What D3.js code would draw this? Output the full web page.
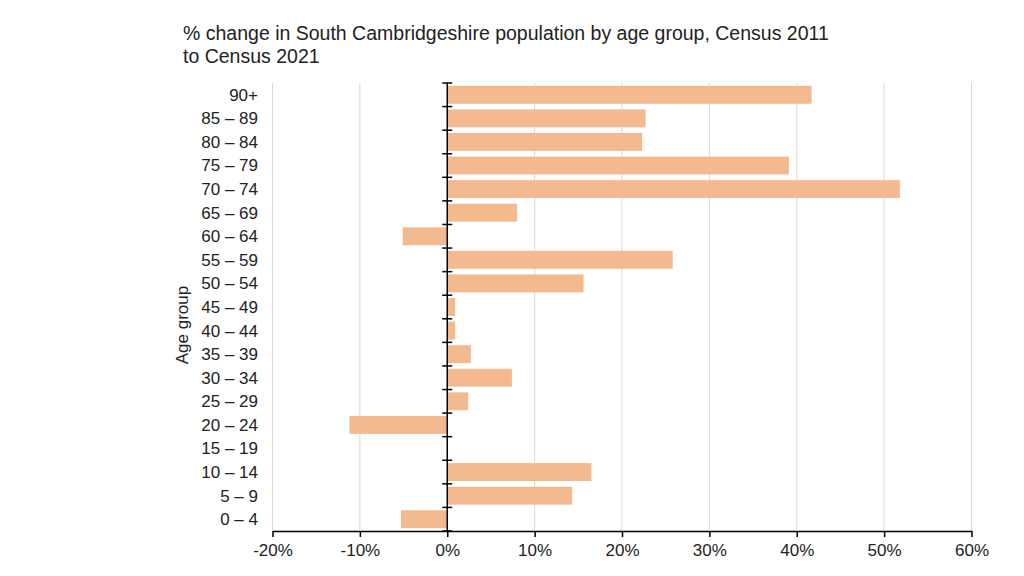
<!DOCTYPE html>
<html><head><meta charset="utf-8">
<script src="https://cdn.jsdelivr.net/npm/d3@7"></script>
<style>
body{margin:0;background:#fff;}
svg{font-family:"Liberation Sans",Arial,sans-serif;}
</style></head><body>
<svg id="c" width="1024" height="576"></svg>
<script>
const categories = ["90+","85 – 89","80 – 84","75 – 79","70 – 74","65 – 69","60 – 64","55 – 59","50 – 54","45 – 49","40 – 44","35 – 39","30 – 34","25 – 29","20 – 24","15 – 19","10 – 14","5 – 9","0 – 4"];
const values = [41.7,22.7,22.3,39.1,51.8,8.0,-5.1,25.8,15.6,0.9,0.9,2.7,7.4,2.4,-11.2,0.0,16.5,14.3,-5.3];
const xTicks = [-20,-10,0,10,20,30,40,50,60];
const titleLines = ["% change in South Cambridgeshire population by age group, Census 2011","to Census 2021"];
const yTitle = "Age group";

(function(){
const svg = d3.select("#c");
const pLeft = 272.5, pRight = 971.5, pTop = 83, pBottom = 531;
const x = d3.scaleLinear().domain([-20,60]).range([pLeft,pRight]);
const y = d3.scaleBand().domain(categories).range([pTop,pBottom]).paddingInner(0.24).paddingOuter(0.12);

// title
svg.append("text").attr("x",183).attr("y",40).attr("font-size",19.5).attr("fill","#222")
  .selectAll("tspan").data(titleLines).join("tspan")
  .attr("x",183).attr("dy",(d,i)=>i?23:0).text(d=>d);

// gridlines
svg.append("g").selectAll("line").data(xTicks.filter(d=>d!==0)).join("line")
  .attr("x1",d=>x(d)).attr("x2",d=>x(d)).attr("y1",pTop).attr("y2",pBottom)
  .attr("stroke","#d9d9d9").attr("stroke-width",1);

// bars
svg.append("g").selectAll("rect").data(categories).join("rect")
  .attr("x",(d,i)=>x(Math.min(0,values[i])))
  .attr("width",(d,i)=>Math.abs(x(values[i])-x(0)))
  .attr("y",d=>y(d)).attr("height",y.bandwidth())
  .attr("fill","#f3b98f");

// x axis
const xa = svg.append("g").attr("transform",`translate(0,${pBottom})`)
  .call(d3.axisBottom(x).tickValues(xTicks).tickFormat(d=>d+"%").tickSize(6).tickSizeOuter(0));
xa.select(".domain").attr("stroke","#000").attr("stroke-width",1.5);
xa.selectAll(".tick line").attr("stroke","#000").attr("stroke-width",1.5);
xa.selectAll("text").attr("font-size",17).attr("fill","#222").attr("dy","0.95em")
  .attr("font-family","Liberation Sans, Arial, sans-serif");

// zero axis line with band-boundary ticks
const bounds = categories.map(c=>y(c)-y.step()*y.paddingInner()/2);
bounds.push(pBottom);
const za = svg.append("g");
za.append("line").attr("x1",x(0)).attr("x2",x(0)).attr("y1",pTop).attr("y2",pBottom)
  .attr("stroke","#000").attr("stroke-width",1.5);
za.selectAll("line.t").data(bounds).join("line").attr("class","t")
  .attr("x1",x(0)-5).attr("x2",x(0)+5).attr("y1",d=>d).attr("y2",d=>d)
  .attr("stroke","#000").attr("stroke-width",1.5);

// y labels
svg.append("g").selectAll("text").data(categories).join("text")
  .attr("x",258).attr("y",d=>y(d)+y.bandwidth()/2).attr("dy","0.35em")
  .attr("text-anchor","end").attr("font-size",17).attr("fill","#222").text(d=>d);

// y title
svg.append("text").attr("transform","translate(188,325) rotate(-90)")
  .attr("text-anchor","middle").attr("font-size",17).attr("fill","#222").text(yTitle);
})();
</script>
</body></html>
